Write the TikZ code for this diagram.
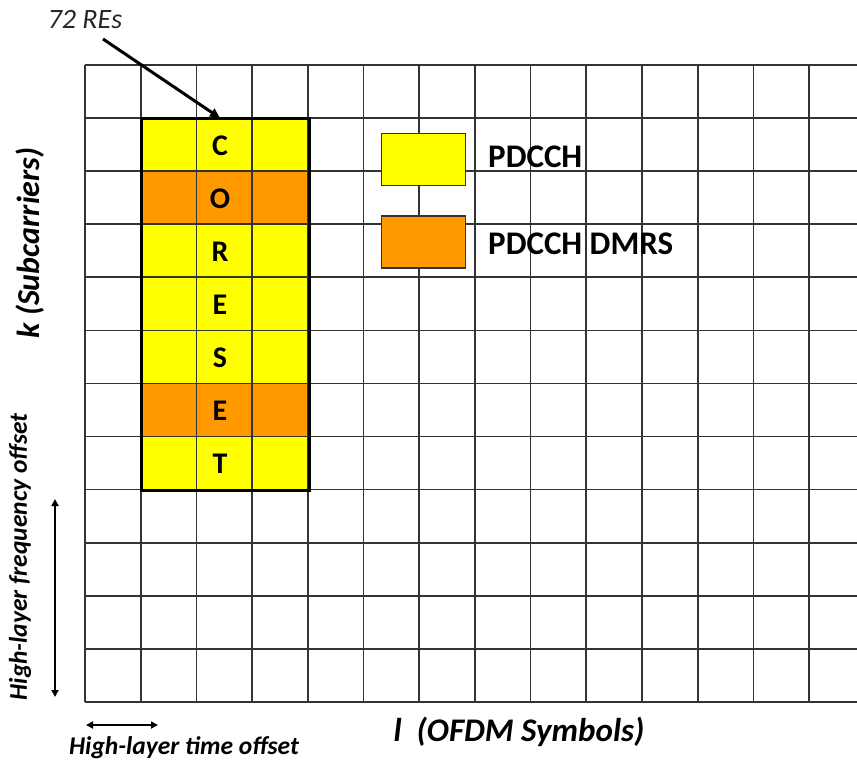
\documentclass[tikz,border=0pt]{standalone}
\usepackage{fontspec}
\setmainfont{Carlito}
\usetikzlibrary{arrows.meta}
\definecolor{pdcch}{HTML}{FFFF00}
\definecolor{dmrs}{HTML}{FF9900}

\begin{document}
\begin{tikzpicture}[x=1pt,y=-1pt,
    gridline/.style={draw=black!80,line width=1.7pt},
    letter/.style={font=\fontsize{30}{34}\selectfont\bfseries},
    legendbox/.style={draw=black!80,line width=1.7pt,minimum width=84pt,minimum height=52pt,inner sep=0pt},
    legendtext/.style={anchor=west,inner sep=0pt,font=\fontsize{33}{38}\selectfont\bfseries},
    axislabel/.style={font=\fontsize{32}{36}\selectfont\bfseries\itshape},
    offsetlabel/.style={font=\fontsize{25.5}{28}\selectfont\bfseries\itshape}]
\useasboundingbox (0,0) rectangle (857,767);

% CORESET rows: yellow PDCCH, orange DMRS
\foreach \r/\c in {0/pdcch,1/dmrs,2/pdcch,3/pdcch,4/pdcch,5/dmrs,6/pdcch}
    \fill[\c] (141,119+\r*53.08) rectangle (309,119+\r*53.08+53.08);

% resource grid
\foreach \i in {0,...,13}
    \draw[gridline] (85+\i*55.7,65) -- (85+\i*55.7,702);
\foreach \j in {0,...,12}
    \draw[gridline] (85,65+\j*53.08) -- (857,65+\j*53.08);

\draw[line width=3pt] (141,119) rectangle (309,490.6);

\begin{scope}
    \node[letter] (C) at (220,145.5) {C};
    \node[letter] (O) at (220,198.6) {O};
    \node[letter] (R) at (220,251.7) {R};
    \node[letter] (E) at (220,304.8) {E};
    \node[letter] (S) at (220,357.8) {S};
    \node[letter] (E2) at (220,410.9) {E};
    \node[letter] (T) at (220,464) {T};

    \node[legendbox,fill=pdcch] (leg1) at (423.5,159.5) {};
    \node[legendbox,fill=dmrs] (leg2) at (423.5,242) {};
    \node[legendtext] (pdcch) at (488,157) {PDCCH};
    \node[legendtext] (dmrs) at (488,244) {PDCCH DMRS};

    \node[font=\fontsize{28}{32}\selectfont\itshape,text=black!85] (res) at (85,20) {72 REs};
    \node[axislabel,rotate=90] (k) at (30,243) {k (Subcarriers)};
    \node[axislabel,font=\fontsize{33}{38}\selectfont\bfseries\itshape] (l) at (519,732) {l\ \ (OFDM Symbols)};
    \node[offsetlabel,rotate=90] (freq) at (20,557) {High-layer frequency offset};
    \node[offsetlabel] (time) at (184,748) {High-layer time offset};

    \coordinate (tail) at (103,39);
    \coordinate (tip) at (220,118);
    \coordinate (f1) at (55,499);
    \coordinate (f2) at (55,697);
    \coordinate (t1) at (86,725);
    \coordinate (t2) at (158,725);
\end{scope}

\begin{scope}[>={Triangle[length=10pt,width=9pt]}]
    \path [->,line width=3pt] (tail) edge (tip);
    \path [<->,line width=1.8pt,>={Triangle[length=7pt,width=7pt]}] (f1) edge (f2);
    \path [<->,line width=1.8pt,>={Triangle[length=7pt,width=7pt]}] (t1) edge (t2);
\end{scope}
\end{tikzpicture}
\end{document}
